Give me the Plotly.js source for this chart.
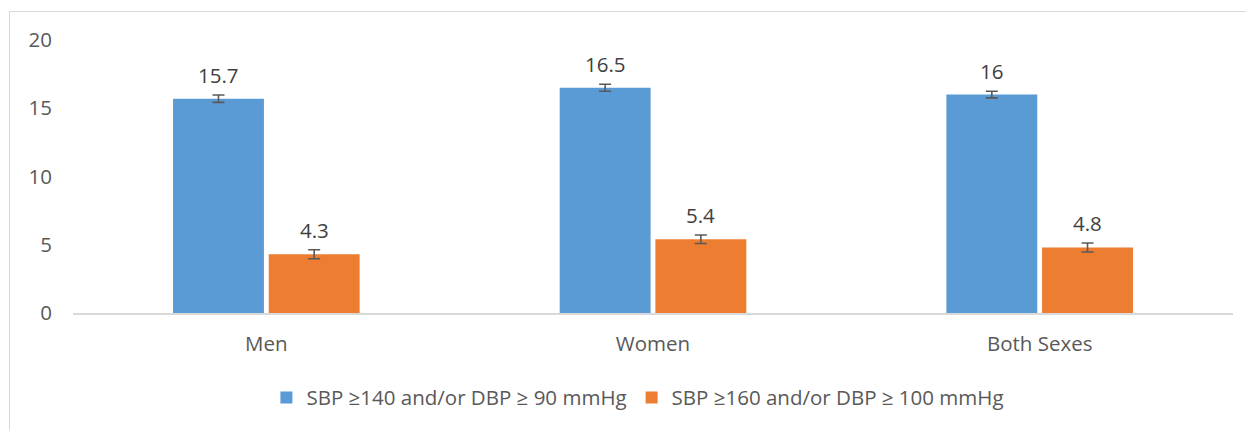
<!DOCTYPE html>
<html>
<head>
<meta charset="utf-8">
<script src="https://cdn.plot.ly/plotly-3.0.1.min.js"></script>
<style>
  html, body { margin: 0; padding: 0; background: #fff; }
  #wrap { position: relative; width: 1246px; height: 430px; overflow: hidden; }
  #frame { position: absolute; left: 9px; top: 11px; width: 1300px; height: 500px;
           border-left: 1px solid #d9d9d9; border-top: 1px solid #d9d9d9; box-sizing: border-box; }
  #chart { position: absolute; left: 0; top: 0; width: 1246px; height: 430px; }
</style>
</head>
<body>
<div id="wrap">
  <div id="frame"></div>
  <div id="chart"></div>
</div>
<script>
const categories = ["Men", "Women", "Both Sexes"];
const seriesNames = ["SBP \u2265140 and/or DBP \u2265 90 mmHg", "SBP \u2265160 and/or DBP \u2265 100 mmHg"];
const sbp140 = [15.7, 16.5, 16.0];
const sbp140Err = [0.27, 0.26, 0.24];
const sbp160 = [4.3, 5.4, 4.8];
const sbp160Err = [0.33, 0.31, 0.33];
const labels140 = ["15.7", "16.5", "16"];
const labels160 = ["4.3", "5.4", "4.8"];
const yTicks = [0, 5, 10, 15, 20];

const txt = "#595959";
const fontFam = "'Open Sans', 'Liberation Sans', sans-serif";
const fs = 20.5;

const bargap = 0.505;
const bargroupgap = 0.05;
const off = (1 - bargap) / 4;

const errStyle = (arr) => ({ type: "data", array: arr, visible: true, color: "#595959", thickness: 1.6, width: 6 });

const traces = [
  { type: "bar", x: categories, y: sbp140, name: seriesNames[0],
    marker: { color: "#5B9BD5", line: { width: 0 } }, error_y: errStyle(sbp140Err), hoverinfo: "y" },
  { type: "bar", x: categories, y: sbp160, name: seriesNames[1],
    marker: { color: "#ED7D31", line: { width: 0 } }, error_y: errStyle(sbp160Err), hoverinfo: "y" }
];

const annotations = [];
categories.forEach((c, i) => {
  annotations.push({ x: i - off, y: sbp140[i], xref: "x", yref: "y", text: labels140[i], showarrow: false,
    yanchor: "bottom", yshift: 8, font: { family: fontFam, size: fs, color: "#404040" } });
  annotations.push({ x: i + off, y: sbp160[i], xref: "x", yref: "y", text: labels160[i], showarrow: false,
    yanchor: "bottom", yshift: 8, font: { family: fontFam, size: fs, color: "#404040" } });
});

const layout = {
  width: 1246, height: 430,
  margin: { l: 73, r: 13, t: 40, b: 115 },
  paper_bgcolor: "rgba(0,0,0,0)", plot_bgcolor: "rgba(0,0,0,0)",
  barmode: "group", bargap: bargap, bargroupgap: bargroupgap,
  font: { family: fontFam, size: fs, color: txt },
  xaxis: { type: "category", showgrid: false, zeroline: false, showline: true, linecolor: "#d9d9d9", linewidth: 2,
           ticks: "", ticklabelstandoff: 11, tickfont: { family: fontFam, size: fs, color: txt } },
  yaxis: { range: [0, 20], tickvals: yTicks, ticktext: yTicks.map(String), showgrid: false, zeroline: false,
           showline: false, ticks: "", ticklabelstandoff: 20, tickfont: { family: fontFam, size: fs, color: txt } },
  showlegend: true,
  legend: { orientation: "h", x: 0.487, xanchor: "center", y: -0.31, yanchor: "middle",
            font: { family: fontFam, size: fs, color: txt }, itemclick: false, traceorder: "normal" },
  annotations: annotations
};

Plotly.newPlot("chart", traces, layout, { displayModeBar: false, staticPlot: true });
</script>
</body>
</html>
